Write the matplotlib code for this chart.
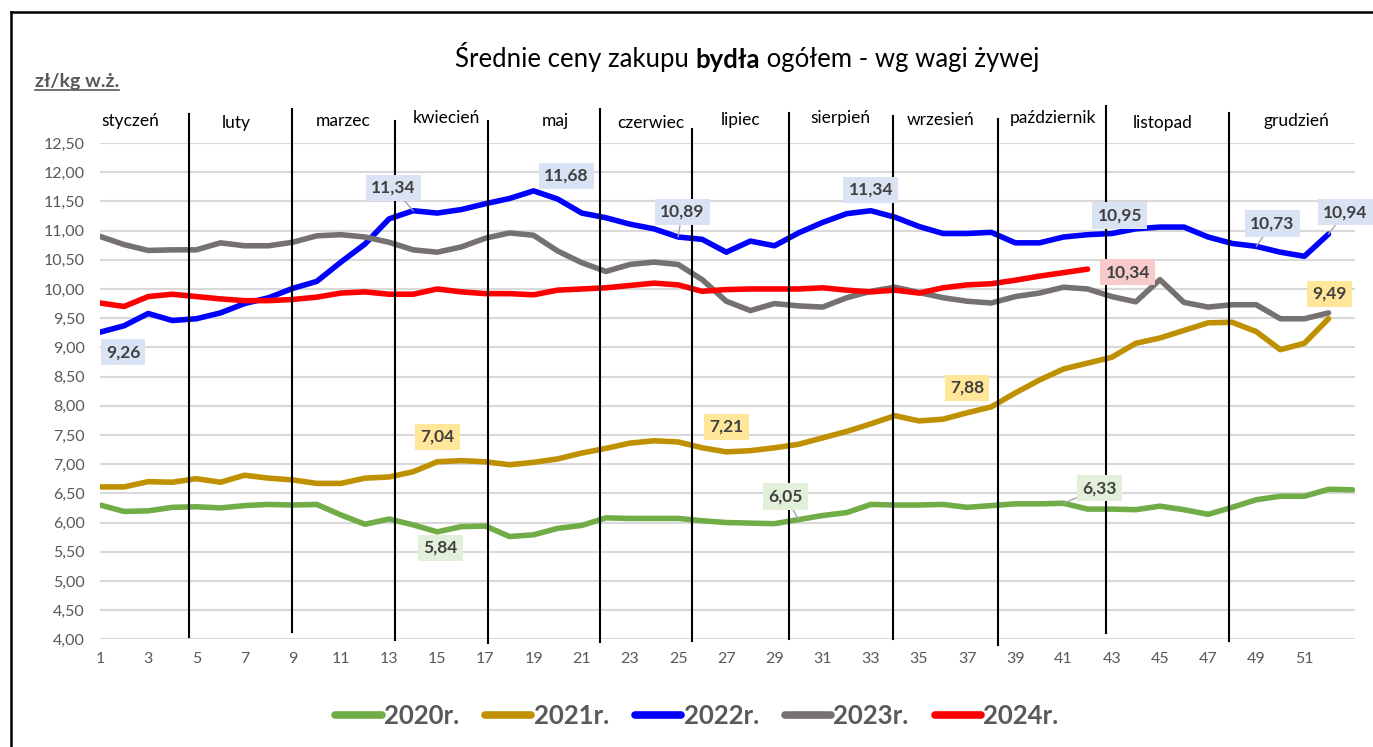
import matplotlib
matplotlib.use('Agg')
import matplotlib.pyplot as plt
from matplotlib.lines import Line2D
from matplotlib.ticker import FuncFormatter, MultipleLocator

plt.rcParams['font.family'] = ['Lato', 'DejaVu Sans']

# weekly prices, zl/kg live weight
weeks_2020 = list(range(1, 54))
weeks = list(range(1, 53))
weeks_2024 = list(range(1, 43))

ceny_2020 = [6.30, 6.19, 6.20, 6.26, 6.27, 6.25, 6.29, 6.31, 6.30, 6.31,
             6.13, 5.97, 6.06, 5.96, 5.84, 5.93, 5.94, 5.76, 5.79, 5.90,
             5.95, 6.08, 6.07, 6.07, 6.07, 6.03, 6.00, 5.99, 5.98, 6.05,
             6.12, 6.17, 6.31, 6.30, 6.30, 6.31, 6.26, 6.29, 6.32, 6.32,
             6.33, 6.23, 6.23, 6.22, 6.28, 6.22, 6.14, 6.26, 6.39, 6.45,
             6.45, 6.57, 6.56]
ceny_2021 = [6.61, 6.61, 6.70, 6.69, 6.75, 6.69, 6.81, 6.76, 6.73, 6.67,
             6.67, 6.76, 6.78, 6.87, 7.04, 7.06, 7.04, 6.99, 7.03, 7.09,
             7.19, 7.27, 7.36, 7.40, 7.38, 7.28, 7.21, 7.23, 7.28, 7.34,
             7.45, 7.56, 7.69, 7.83, 7.74, 7.77, 7.88, 7.98, 8.22, 8.44,
             8.63, 8.73, 8.83, 9.07, 9.16, 9.29, 9.42, 9.43, 9.27, 8.96,
             9.07, 9.49]
ceny_2022 = [9.26, 9.37, 9.58, 9.46, 9.49, 9.59, 9.75, 9.85, 10.01, 10.13,
             10.46, 10.77, 11.20, 11.34, 11.30, 11.36, 11.46, 11.55, 11.68, 11.54,
             11.30, 11.22, 11.11, 11.03, 10.89, 10.85, 10.63, 10.82, 10.74, 10.96,
             11.14, 11.29, 11.34, 11.23, 11.07, 10.95, 10.95, 10.97, 10.79, 10.79,
             10.89, 10.93, 10.95, 11.03, 11.06, 11.06, 10.89, 10.78, 10.73, 10.63,
             10.56, 10.94]
ceny_2023 = [10.90, 10.76, 10.66, 10.67, 10.67, 10.79, 10.74, 10.74, 10.80, 10.91,
             10.93, 10.89, 10.80, 10.67, 10.63, 10.72, 10.87, 10.96, 10.92, 10.65,
             10.45, 10.30, 10.42, 10.46, 10.42, 10.16, 9.79, 9.63, 9.75, 9.71,
             9.69, 9.85, 9.96, 10.03, 9.94, 9.85, 9.79, 9.76, 9.87, 9.93,
             10.03, 10.00, 9.87, 9.78, 10.16, 9.77, 9.69, 9.73, 9.73, 9.49,
             9.49, 9.59]
ceny_2024 = [9.76, 9.70, 9.87, 9.91, 9.87, 9.83, 9.80, 9.80, 9.82, 9.86,
             9.93, 9.95, 9.91, 9.91, 10.00, 9.95, 9.92, 9.92, 9.90, 9.98,
             10.00, 10.02, 10.06, 10.10, 10.07, 9.96, 9.99, 10.00, 10.00, 10.00,
             10.02, 9.98, 9.95, 9.98, 9.93, 10.02, 10.07, 10.09, 10.15, 10.22,
             10.28, 10.34]

miesiace = ['styczeń', 'luty', 'marzec', 'kwiecień', 'maj', 'czerwiec',
            'lipiec', 'sierpień', 'wrzesień', 'październik', 'listopad', 'grudzień']
# hand drawn month separators (x in weeks, top / bottom in zl)
granice = [4.69, 8.97, 13.24, 17.1, 21.75, 25.56, 29.59, 33.9, 38.26, 42.78, 47.85]
granice_gora = [13.0, 13.08, 12.88, 12.88, 13.08, 12.74, 13.01, 12.96, 12.91, 13.13, 13.01]
granice_dol = [4.04, 4.13, 3.99, 3.94, 3.96, 3.97, 4.01, 4.01, 3.91, 4.11, 3.97]
etykiety_x = [2.24, 6.64, 11.08, 15.4, 19.92, 23.86, 27.6, 31.75, 35.9, 40.54, 45.11, 50.67]
etykiety_y = [12.87, 12.84, 12.87, 12.92, 12.87, 12.85, 12.9, 12.92, 12.9, 12.92, 12.84, 12.87]

green = '#70AD47'
gold = '#BF9000'
blue = '#0000FF'
grey = '#767171'
red = '#FF0000'

fig = plt.figure(figsize=(13.73, 7.47), dpi=100)
ax = fig.add_axes([100 / 1373, 1 - 639.3 / 747, 1255 / 1373, (639.3 - 143) / 747])

ax.plot(weeks_2020, ceny_2020, color=green, lw=4, solid_capstyle='round', solid_joinstyle='round', label='2020r.', zorder=3)
ax.plot(weeks, ceny_2021, color=gold, lw=4, solid_capstyle='round', solid_joinstyle='round', label='2021r.', zorder=3)
ax.plot(weeks, ceny_2022, color=blue, lw=4, solid_capstyle='round', solid_joinstyle='round', label='2022r.', zorder=3)
ax.plot(weeks, ceny_2023, color=grey, lw=4, solid_capstyle='round', solid_joinstyle='round', label='2023r.', zorder=3)
ax.plot(weeks_2024, ceny_2024, color=red, lw=4, solid_capstyle='round', solid_joinstyle='round', label='2024r.', zorder=3)

ax.set_xlim(1, 53.1)
ax.set_ylim(4, 12.5)
ax.yaxis.set_major_locator(MultipleLocator(0.5))
ax.yaxis.set_major_formatter(FuncFormatter(lambda v, p: f'{v:.2f}'.replace('.', ',')))
ax.set_xticks(list(range(1, 52, 2)))
ax.grid(axis='y', color='#D9D9D9', lw=1.5, zorder=0)
for s in ax.spines.values():
    s.set_visible(False)
ax.tick_params(length=0, labelsize=11.5, labelcolor='#595959')
ax.tick_params(axis='y', pad=11)
ax.tick_params(axis='x', pad=9)

# month separators and names
for g, top, bot in zip(granice, granice_gora, granice_dol):
    ax.plot([g, g], [bot, top], color='black', lw=1.5, clip_on=False, zorder=4)
for xm, ym, m in zip(etykiety_x, etykiety_y, miesiace):
    ax.text(xm, ym, m, ha='center', va='center', fontsize=12.5, color='black', clip_on=False)

# data labels
def lab(weeks_list, series, w, dx, dy, fill, leader=False):
    v = series[weeks_list.index(w)]
    kw = dict(xy=(w, v), xytext=(dx * 0.72, dy * 0.72), textcoords='offset points',
              ha='center', va='center', fontsize=12.5, fontweight='bold', color='#404040',
              bbox=dict(boxstyle='square,pad=0.3', fc=fill, ec='none'), zorder=5)
    if leader:
        kw['arrowprops'] = dict(arrowstyle='-', color='#A6A6A6', lw=1, shrinkA=0, shrinkB=0)
    ax.annotate(f'{v:.2f}'.replace('.', ','), **kw)

lb = '#DAE3F3'
ly = '#FFE699'
lg = '#E2F0D9'
lr = '#F8CBCB'
lab(weeks, ceny_2022, 1, 23, -20, lb)
lab(weeks, ceny_2022, 14, -20, 23, lb, True)
lab(weeks, ceny_2022, 19, 33, 15, lb)
lab(weeks, ceny_2022, 25, 4, 25, lb, True)
lab(weeks, ceny_2022, 33, 0, 21, lb)
lab(weeks, ceny_2022, 43, 8, 18, lb)
lab(weeks, ceny_2022, 49, 16, 23, lb, True)
lab(weeks, ceny_2022, 52, 17, 22, lb, True)
lab(weeks, ceny_2021, 15, 0, 25, ly)
lab(weeks, ceny_2021, 27, 0, 25, ly)
lab(weeks, ceny_2021, 37, 0, 25, ly)
lab(weeks, ceny_2021, 52, 1, 25, ly)
lab(weeks_2020, ceny_2020, 15, 3, -16, lg)
lab(weeks_2020, ceny_2020, 30, -13, 23, lg, True)
lab(weeks_2020, ceny_2020, 41, 36, 15, lg, True)
lab(weeks_2024, ceny_2024, 42, 40, -3, lr)

# title in three pieces (bold middle word)
t1 = fig.text(455 / 1373, 1 - 57 / 747, 'Średnie ceny zakupu ', fontsize=18.5, va='center', ha='left')
t2 = ax.annotate('bydła', xy=(1, 0), xycoords=t1, fontsize=18.5, fontweight='bold', va='bottom', ha='left')
t3 = ax.annotate(' ogółem - wg wagi żywej', xy=(1, 0), xycoords=t2, fontsize=18.5, va='bottom', ha='left')

yl = fig.text(35 / 1373, 1 - 82 / 747, 'zł/kg w.ż.', fontsize=14, fontweight='bold', color='#595959', va='center', ha='left')
fig.canvas.draw()
bb = yl.get_window_extent()
fig.add_artist(Line2D([bb.x0 / 1373, bb.x1 / 1373], [(bb.y0 + 1) / 747, (bb.y0 + 1) / 747], color='#595959', lw=1.2))

# outer frame (left and top edges)
fig.add_artist(Line2D([11 / 1373, 11 / 1373], [0, 1 - 12 / 747], color='black', lw=1.8))
fig.add_artist(Line2D([11 / 1373, 1], [1 - 12 / 747, 1 - 12 / 747], color='black', lw=1.8))

leg = fig.legend(loc='center', bbox_to_anchor=(697 / 1373, 1 - 716 / 747), ncol=5, frameon=False,
                 handlelength=1.8, handletextpad=0.1, columnspacing=1.0,
                 prop={'size': 18.5, 'weight': 'bold'})
for t in leg.get_texts():
    t.set_color('#595959')
for h in leg.legend_handles:
    h.set_linewidth(5.5)

fig.savefig('out.png', dpi=100)
